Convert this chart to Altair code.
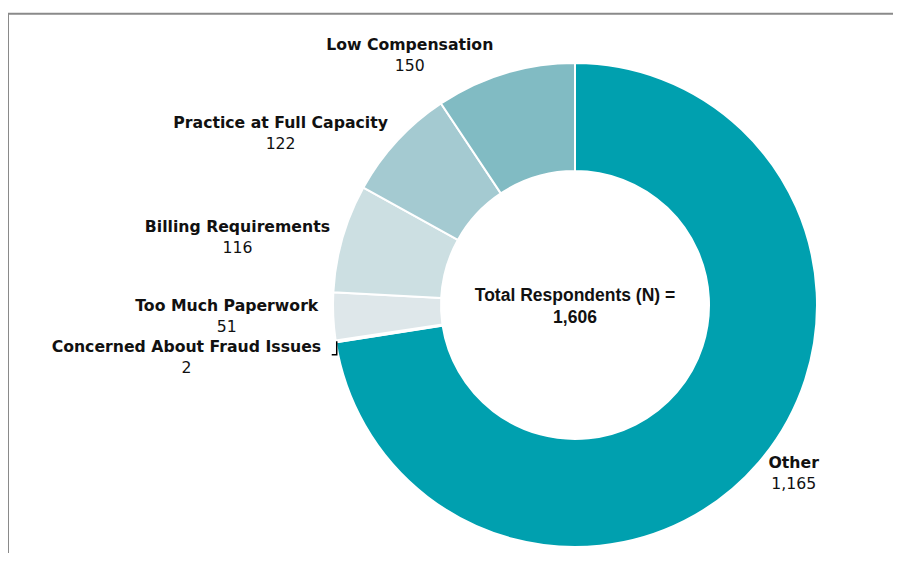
import math
import altair as alt
import pandas as pd

# ---- data ----
categories = ["Other", "Concerned About Fraud Issues", "Too Much Paperwork",
              "Billing Requirements", "Practice at Full Capacity", "Low Compensation"]
counts = [1165, 2, 51, 116, 122, 150]
center_title = "Total Respondents (N) ="

# ---- styling / layout ----
slice_colors = ["#00A0AF", "#EEF3F4", "#DEE7EA", "#CCDFE2", "#A4CAD1", "#81BBC3"]
W, H = 885, 545
CX, CY = 567, 297
R_OUT, R_IN = 242, 134
LABEL_R = 255
name_width = [50, 273, 187, 185, 214, 167]   # rendered width of each bold label
nudge_x = [0, 0, 0, 0, 0, -8]
nudge_y = [3, 14, 0, 3, 1, -5]
FONT = "DejaVu Sans"
FS = 15.7

total = sum(counts)
df = pd.DataFrame({
    "category": categories,
    "count": counts,
    "order": list(range(len(categories))),
    "value_label": [f"{c:,}" for c in counts],
})

# label positions derived from each slice's mid angle
rows = []
cum = 0
conn = []
for i, (cat, c) in enumerate(zip(categories, counts)):
    mid = (cum + c / 2) / total * 2 * math.pi
    cum += c
    ax = CX + LABEL_R * math.sin(mid)
    ay = CY - LABEL_R * math.cos(mid)
    side = 1 if math.sin(mid) > 0 else -1
    lx = ax + side * name_width[i] / 2 + nudge_x[i]
    ly = ay + nudge_y[i]
    rows.append({"category": cat, "value_label": f"{c:,}", "lx": lx,
                 "name_y": ly - 10.5, "val_y": ly + 10.5})
    if nudge_y[i] > 5:
        ex = CX + (R_OUT - 1) * math.sin(mid)
        ey = CY - (R_OUT - 1) * math.cos(mid)
        conn += [{"x": ex, "y": ey, "k": 0},
                 {"x": ex, "y": ly - 10.5 + 8, "k": 1},
                 {"x": ex - 5, "y": ly - 10.5 + 8, "k": 2}]
lab = pd.DataFrame(rows)
conn_df = pd.DataFrame(conn)

center_df = pd.DataFrame({"t": [center_title, f"{total:,}"], "y": [CY - 9.5, CY + 12.5]})
one = pd.DataFrame({"a": [0]})

frame_top = alt.Chart(one).mark_rule(color="#8a8a8a", strokeWidth=2).encode(
    x=alt.value(0), x2=alt.value(W), y=alt.value(5.7))
frame_left = alt.Chart(one).mark_rule(color="#8a8a8a", strokeWidth=2).encode(
    x=alt.value(0), y=alt.value(5), y2=alt.value(H))

arcs = alt.Chart(df).mark_arc(outerRadius=R_OUT, innerRadius=R_IN,
                              stroke="white", strokeWidth=2).encode(
    theta=alt.Theta("count:Q", stack=True),
    order=alt.Order("order:Q"),
    color=alt.Color("category:N", scale=alt.Scale(domain=categories, range=slice_colors),
                    legend=None),
    x=alt.value(CX), y=alt.value(CY),
)

names = alt.Chart(lab).mark_text(font=FONT, fontSize=FS, fontWeight="bold",
                                 color="#111111", align="center", baseline="middle").encode(
    x=alt.X("lx:Q", scale=None, axis=None),
    y=alt.Y("name_y:Q", scale=None, axis=None),
    text="category:N",
)
values = alt.Chart(lab).mark_text(font=FONT, fontSize=FS, color="#111111",
                                  align="center", baseline="middle").encode(
    x=alt.X("lx:Q", scale=None, axis=None),
    y=alt.Y("val_y:Q", scale=None, axis=None),
    text="value_label:N",
)
connector = alt.Chart(conn_df).mark_line(color="#000000", strokeWidth=1.5).encode(
    x=alt.X("x:Q", scale=None, axis=None),
    y=alt.Y("y:Q", scale=None, axis=None),
    order="k:Q",
)
center = alt.Chart(center_df).mark_text(font="Liberation Sans", fontSize=17.5,
                                        fontWeight="bold", color="#111111",
                                        align="center", baseline="middle").encode(
    x=alt.value(CX),
    y=alt.Y("y:Q", scale=None, axis=None),
    text="t:N",
)

chart = alt.layer(frame_top, frame_left, arcs, connector, names, values, center).properties(
    width=W, height=H, padding=0, autosize=alt.AutoSizeParams(type="none"),
    background="white",
).configure_view(stroke=None)

chart.save("out.html", embed_options={"renderer": "svg", "actions": False})
